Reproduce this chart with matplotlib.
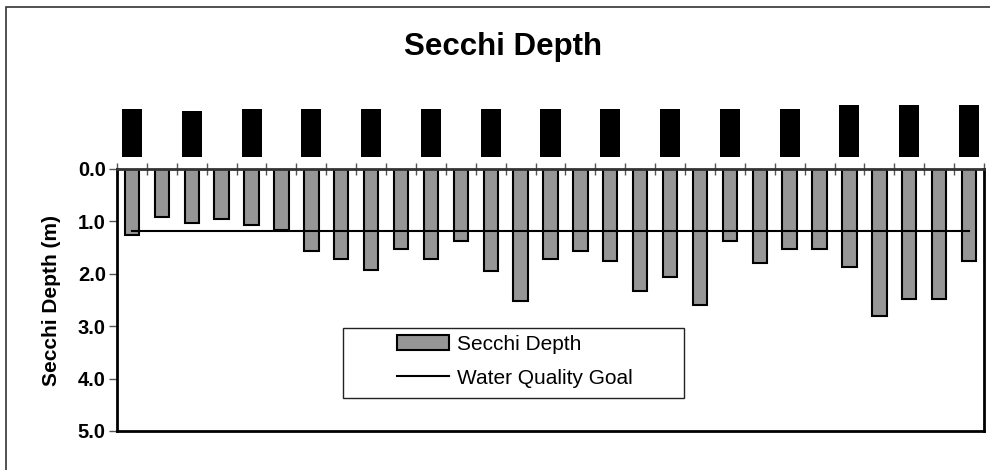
"""
Secchi depth bar chart with water quality goal line
"""

### Import modules
import numpy as np
import matplotlib.pyplot as plt
from matplotlib.patches import Rectangle

### Data
secchi = [1.26, 0.92, 1.03, 0.95, 1.07, 1.17, 1.57, 1.72, 1.92, 1.53,
          1.72, 1.38, 1.95, 2.52, 1.72, 1.56, 1.76, 2.33, 2.06, 2.60,
          1.37, 1.79, 1.53, 1.53, 1.87, 2.80, 2.49, 2.49, 1.76]
goal = [1.18] * len(secchi)
black_heights = [48, 46, 48, 48, 48, 48, 48, 48, 48, 48, 48, 48, 52, 52, 52]
yticks = [0.0, 1.0, 2.0, 3.0, 4.0, 5.0]

x = np.arange(len(secchi))
xblack = x[::2]

### Figure
plt.rcParams['font.family'] = ['Liberation Sans', 'DejaVu Sans']
W, H = 990, 470
fig = plt.figure(figsize=(W / 100, H / 100), dpi=100)

def fbox(x0, y0, x1, y1):
    # pixel box (top-left origin) -> figure fraction rect
    return [x0 / W, 1 - y1 / H, (x1 - x0) / W, (y1 - y0) / H]

# outer chart border
fig.patches.append(Rectangle((6 / W, -0.1), 1.2, 1 - 7 / H + 0.1,
                             transform=fig.transFigure, fill=False,
                             edgecolor='#333333', linewidth=1.2))

ax = fig.add_axes(fbox(117, 169, 984, 431))
bars = ax.bar(x, secchi, width=0.48, color='#969696', edgecolor='black',
              linewidth=1.5, label='Secchi Depth', zorder=2)
line, = ax.plot(x, goal, color='black', linewidth=1.5,
                label='Water Quality Goal', zorder=3)

ax.set_xlim(-0.5, len(secchi) - 0.5)
ax.set_ylim(5.0, 0.0)
ax.set_yticks(yticks)
ax.set_yticklabels(['%.1f' % v for v in yticks], fontsize=14.5,
                   fontweight='bold')
ax.set_xticks(np.arange(len(secchi) + 1) - 0.5)
ax.set_xticklabels([])
ax.xaxis.set_ticks_position('top')
ax.tick_params(axis='x', direction='inout', length=9, width=1, color='#555555')
ax.tick_params(axis='y', direction='out', length=6, width=1, color='#555555',
               pad=2)
for s in ['left', 'right', 'bottom']:
    ax.spines[s].set_linewidth(2)
    ax.spines[s].set_color('black')
ax.spines['top'].set_linewidth(2)
ax.spines['top'].set_color('#333333')
ax.set_ylabel('Secchi Depth (m)', fontsize=15, fontweight='bold', labelpad=12)

### Black bars above the plot
axt = fig.add_axes(fbox(117, 97, 984, 157))
axt.bar(xblack, black_heights, width=0.67, color='black', linewidth=0)
axt.set_xlim(-0.5, len(secchi) - 0.5)
axt.set_ylim(0, 60)
axt.axis('off')

### Title
fig.text(503 / W, 1 - 47 / H, 'Secchi Depth', fontsize=22.5,
         fontweight='bold', ha='center', va='center')

### Legend
ax.add_patch(Rectangle((343 / W, 1 - 398 / H), 341 / W, 70 / H,
                       transform=fig.transFigure, fill=True, clip_on=False,
                       facecolor='white', edgecolor='#222222',
                       linewidth=1, zorder=5))
le = ax.legend([bars, line], ['Secchi Depth', 'Water Quality Goal'],
               loc='center left', bbox_to_anchor=(397 / W, 1 - 361 / H),
               bbox_transform=fig.transFigure, frameon=False, fontsize=15,
               borderpad=0, borderaxespad=0, handlelength=2.5,
               handletextpad=0.38, labelspacing=0.72)
le.set_zorder(6)

plt.savefig('out.png', dpi=100, facecolor='white')
